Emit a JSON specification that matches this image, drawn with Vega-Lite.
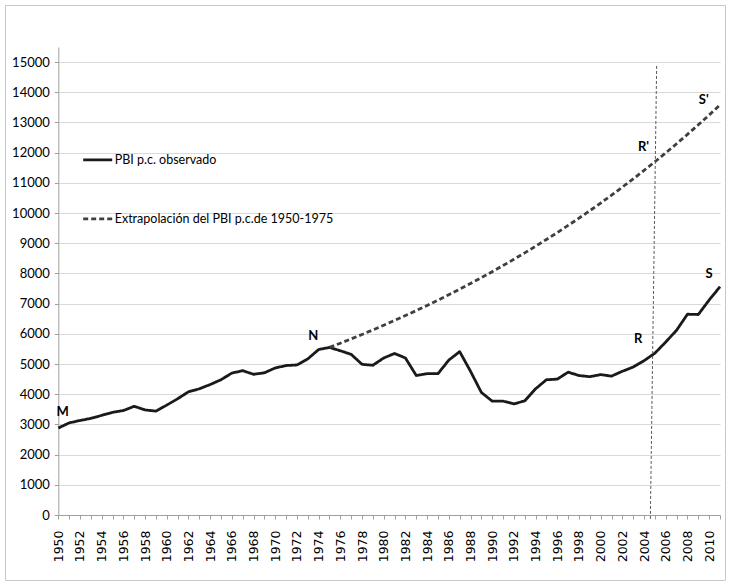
{
  "$schema": "https://vega.github.io/schema/vega-lite/v6.json",
  "width": 720,
  "height": 575,
  "padding": 5,
  "background": "white",
  "config": {"view": {"stroke": "#c8c8c8", "strokeWidth": 1}},
  "datasets": {
    "series": [
      {"year": 1950, "value": 2880, "series": "PBI p.c. observado"},
      {"year": 1951, "value": 3050, "series": "PBI p.c. observado"},
      {"year": 1952, "value": 3130, "series": "PBI p.c. observado"},
      {"year": 1953, "value": 3200, "series": "PBI p.c. observado"},
      {"year": 1954, "value": 3300, "series": "PBI p.c. observado"},
      {"year": 1955, "value": 3400, "series": "PBI p.c. observado"},
      {"year": 1956, "value": 3460, "series": "PBI p.c. observado"},
      {"year": 1957, "value": 3600, "series": "PBI p.c. observado"},
      {"year": 1958, "value": 3480, "series": "PBI p.c. observado"},
      {"year": 1959, "value": 3440, "series": "PBI p.c. observado"},
      {"year": 1960, "value": 3640, "series": "PBI p.c. observado"},
      {"year": 1961, "value": 3850, "series": "PBI p.c. observado"},
      {"year": 1962, "value": 4080, "series": "PBI p.c. observado"},
      {"year": 1963, "value": 4180, "series": "PBI p.c. observado"},
      {"year": 1964, "value": 4320, "series": "PBI p.c. observado"},
      {"year": 1965, "value": 4480, "series": "PBI p.c. observado"},
      {"year": 1966, "value": 4700, "series": "PBI p.c. observado"},
      {"year": 1967, "value": 4780, "series": "PBI p.c. observado"},
      {"year": 1968, "value": 4660, "series": "PBI p.c. observado"},
      {"year": 1969, "value": 4710, "series": "PBI p.c. observado"},
      {"year": 1970, "value": 4870, "series": "PBI p.c. observado"},
      {"year": 1971, "value": 4950, "series": "PBI p.c. observado"},
      {"year": 1972, "value": 4970, "series": "PBI p.c. observado"},
      {"year": 1973, "value": 5170, "series": "PBI p.c. observado"},
      {"year": 1974, "value": 5480, "series": "PBI p.c. observado"},
      {"year": 1975, "value": 5550, "series": "PBI p.c. observado"},
      {"year": 1976, "value": 5440, "series": "PBI p.c. observado"},
      {"year": 1977, "value": 5320, "series": "PBI p.c. observado"},
      {"year": 1978, "value": 4990, "series": "PBI p.c. observado"},
      {"year": 1979, "value": 4960, "series": "PBI p.c. observado"},
      {"year": 1980, "value": 5200, "series": "PBI p.c. observado"},
      {"year": 1981, "value": 5350, "series": "PBI p.c. observado"},
      {"year": 1982, "value": 5200, "series": "PBI p.c. observado"},
      {"year": 1983, "value": 4620, "series": "PBI p.c. observado"},
      {"year": 1984, "value": 4680, "series": "PBI p.c. observado"},
      {"year": 1985, "value": 4680, "series": "PBI p.c. observado"},
      {"year": 1986, "value": 5130, "series": "PBI p.c. observado"},
      {"year": 1987, "value": 5410, "series": "PBI p.c. observado"},
      {"year": 1988, "value": 4760, "series": "PBI p.c. observado"},
      {"year": 1989, "value": 4060, "series": "PBI p.c. observado"},
      {"year": 1990, "value": 3770, "series": "PBI p.c. observado"},
      {"year": 1991, "value": 3770, "series": "PBI p.c. observado"},
      {"year": 1992, "value": 3680, "series": "PBI p.c. observado"},
      {"year": 1993, "value": 3780, "series": "PBI p.c. observado"},
      {"year": 1994, "value": 4180, "series": "PBI p.c. observado"},
      {"year": 1995, "value": 4480, "series": "PBI p.c. observado"},
      {"year": 1996, "value": 4500, "series": "PBI p.c. observado"},
      {"year": 1997, "value": 4730, "series": "PBI p.c. observado"},
      {"year": 1998, "value": 4620, "series": "PBI p.c. observado"},
      {"year": 1999, "value": 4580, "series": "PBI p.c. observado"},
      {"year": 2000, "value": 4650, "series": "PBI p.c. observado"},
      {"year": 2001, "value": 4600, "series": "PBI p.c. observado"},
      {"year": 2002, "value": 4760, "series": "PBI p.c. observado"},
      {"year": 2003, "value": 4900, "series": "PBI p.c. observado"},
      {"year": 2004, "value": 5110, "series": "PBI p.c. observado"},
      {"year": 2005, "value": 5360, "series": "PBI p.c. observado"},
      {"year": 2006, "value": 5730, "series": "PBI p.c. observado"},
      {"year": 2007, "value": 6120, "series": "PBI p.c. observado"},
      {"year": 2008, "value": 6650, "series": "PBI p.c. observado"},
      {"year": 2009, "value": 6640, "series": "PBI p.c. observado"},
      {"year": 2010, "value": 7120, "series": "PBI p.c. observado"},
      {"year": 2011, "value": 7560, "series": "PBI p.c. observado"},
      {"year": 1975, "value": 5550, "series": "Extrapolación del PBI p.c.de 1950-1975"},
      {"year": 1976, "value": 5690, "series": "Extrapolación del PBI p.c.de 1950-1975"},
      {"year": 1977, "value": 5833, "series": "Extrapolación del PBI p.c.de 1950-1975"},
      {"year": 1978, "value": 5980, "series": "Extrapolación del PBI p.c.de 1950-1975"},
      {"year": 1979, "value": 6130, "series": "Extrapolación del PBI p.c.de 1950-1975"},
      {"year": 1980, "value": 6285, "series": "Extrapolación del PBI p.c.de 1950-1975"},
      {"year": 1981, "value": 6443, "series": "Extrapolación del PBI p.c.de 1950-1975"},
      {"year": 1982, "value": 6605, "series": "Extrapolación del PBI p.c.de 1950-1975"},
      {"year": 1983, "value": 6771, "series": "Extrapolación del PBI p.c.de 1950-1975"},
      {"year": 1984, "value": 6942, "series": "Extrapolación del PBI p.c.de 1950-1975"},
      {"year": 1985, "value": 7116, "series": "Extrapolación del PBI p.c.de 1950-1975"},
      {"year": 1986, "value": 7295, "series": "Extrapolación del PBI p.c.de 1950-1975"},
      {"year": 1987, "value": 7479, "series": "Extrapolación del PBI p.c.de 1950-1975"},
      {"year": 1988, "value": 7667, "series": "Extrapolación del PBI p.c.de 1950-1975"},
      {"year": 1989, "value": 7860, "series": "Extrapolación del PBI p.c.de 1950-1975"},
      {"year": 1990, "value": 8058, "series": "Extrapolación del PBI p.c.de 1950-1975"},
      {"year": 1991, "value": 8261, "series": "Extrapolación del PBI p.c.de 1950-1975"},
      {"year": 1992, "value": 8469, "series": "Extrapolación del PBI p.c.de 1950-1975"},
      {"year": 1993, "value": 8682, "series": "Extrapolación del PBI p.c.de 1950-1975"},
      {"year": 1994, "value": 8901, "series": "Extrapolación del PBI p.c.de 1950-1975"},
      {"year": 1995, "value": 9125, "series": "Extrapolación del PBI p.c.de 1950-1975"},
      {"year": 1996, "value": 9354, "series": "Extrapolación del PBI p.c.de 1950-1975"},
      {"year": 1997, "value": 9590, "series": "Extrapolación del PBI p.c.de 1950-1975"},
      {"year": 1998, "value": 9831, "series": "Extrapolación del PBI p.c.de 1950-1975"},
      {"year": 1999, "value": 10079, "series": "Extrapolación del PBI p.c.de 1950-1975"},
      {"year": 2000, "value": 10332, "series": "Extrapolación del PBI p.c.de 1950-1975"},
      {"year": 2001, "value": 10593, "series": "Extrapolación del PBI p.c.de 1950-1975"},
      {"year": 2002, "value": 10859, "series": "Extrapolación del PBI p.c.de 1950-1975"},
      {"year": 2003, "value": 11132, "series": "Extrapolación del PBI p.c.de 1950-1975"},
      {"year": 2004, "value": 11413, "series": "Extrapolación del PBI p.c.de 1950-1975"},
      {"year": 2005, "value": 11700, "series": "Extrapolación del PBI p.c.de 1950-1975"},
      {"year": 2006, "value": 11994, "series": "Extrapolación del PBI p.c.de 1950-1975"},
      {"year": 2007, "value": 12296, "series": "Extrapolación del PBI p.c.de 1950-1975"},
      {"year": 2008, "value": 12606, "series": "Extrapolación del PBI p.c.de 1950-1975"},
      {"year": 2009, "value": 12923, "series": "Extrapolación del PBI p.c.de 1950-1975"},
      {"year": 2010, "value": 13248, "series": "Extrapolación del PBI p.c.de 1950-1975"},
      {"year": 2011, "value": 13582, "series": "Extrapolación del PBI p.c.de 1950-1975"}
    ],
    "vline": [
      {"year": 2004.58, "value": -130},
      {"year": 2005.16, "value": 14900}
    ],
    "labels": [
      {"year": 1950.4, "value": 3420, "label": "M"},
      {"year": 1973.5, "value": 5930, "label": "N"},
      {"year": 2003.45, "value": 5820, "label": "R"},
      {"year": 2003.95, "value": 12195, "label": "R'"},
      {"year": 2010.0, "value": 7980, "label": "S"},
      {"year": 2009.5, "value": 13740, "label": "S'"}
    ]
  },
  "encoding": {
    "x": {
      "field": "year",
      "type": "quantitative",
      "scale": {"domain": [1950, 2011], "range": [53.3, 715], "nice": false, "zero": false},
      "axis": {
        "title": null,
        "orient": "bottom",
        "offset": -65,
        "grid": false,
        "values": [1950,1951,1952,1953,1954,1955,1956,1957,1958,1959,1960,1961,1962,1963,1964,1965,1966,1967,1968,1969,1970,1971,1972,1973,1974,1975,1976,1977,1978,1979,1980,1981,1982,1983,1984,1985,1986,1987,1988,1989,1990,1991,1992,1993,1994,1995,1996,1997,1998,1999,2000,2001,2002,2003,2004,2005,2006,2007,2008,2009,2010,2011],
        "format": "d",
        "labelExpr": "datum.value % 2 == 0 ? datum.label : ''",
        "labelAngle": -90,
        "labelOverlap": false,
        "labelFlush": false,
        "labelBound": false,
        "labelPadding": 11,
        "labelFont": "DejaVu Sans",
        "labelFontSize": 12.5,
        "labelColor": "#000000",
        "tickSize": 4,
        "tickColor": "#a0a0a0",
        "domainColor": "#a0a0a0"
      }
    },
    "y": {
      "field": "value",
      "type": "quantitative",
      "scale": {"domain": [0, 15500], "range": [510, 42], "nice": false, "zero": true},
      "axis": {
        "title": null,
        "orient": "left",
        "offset": -53.3,
        "values": [0,1000,2000,3000,4000,5000,6000,7000,8000,9000,10000,11000,12000,13000,14000,15000],
        "format": "d",
        "grid": true,
        "gridColor": "#d9d9d9",
        "gridWidth": 1,
        "tickSize": 4,
        "tickColor": "#a0a0a0",
        "domainColor": "#a0a0a0",
        "labelPadding": 5,
        "labelFont": "Lato",
        "labelFontSize": 13,
        "labelColor": "#000000"
      }
    }
  },
  "layer": [
    {
      "data": {"name": "series"},
      "mark": {"type": "line", "strokeWidth": 2.8, "strokeJoin": "round"},
      "encoding": {
        "color": {
          "field": "series",
          "type": "nominal",
          "scale": {
            "domain": ["PBI p.c. observado", "Extrapolación del PBI p.c.de 1950-1975"],
            "range": ["#1a1a1a", "#3f3f3f"]
          },
          "legend": {
            "orient": "none",
            "legendX": 76.7,
            "legendY": 138.8,
            "title": null,
            "direction": "vertical",
            "symbolType": "stroke",
            "symbolSize": 841,
            "symbolStrokeWidth": 2.8,
            "labelFont": "Lato",
            "labelFontSize": 12.5,
            "labelColor": "#000000",
            "labelOffset": 1,
            "labelLimit": 0,
            "rowPadding": 36,
            "padding": 0
          }
        },
        "strokeDash": {
          "field": "series",
          "type": "nominal",
          "scale": {
            "domain": ["PBI p.c. observado", "Extrapolación del PBI p.c.de 1950-1975"],
            "range": [[1, 0], [5, 3]]
          },
          "legend": {
            "orient": "none",
            "legendX": 76.7,
            "legendY": 138.8,
            "title": null,
            "direction": "vertical",
            "symbolType": "stroke",
            "symbolSize": 841,
            "symbolStrokeWidth": 2.8,
            "labelFont": "Lato",
            "labelFontSize": 12.5,
            "labelColor": "#000000",
            "labelOffset": 1,
            "labelLimit": 0,
            "rowPadding": 36,
            "padding": 0
          }
        }
      }
    },
    {
      "data": {"name": "vline"},
      "mark": {"type": "line", "color": "#595959", "strokeWidth": 1, "strokeDash": [3, 2]},
      "encoding": {}
    },
    {
      "data": {"name": "labels"},
      "mark": {"type": "text", "font": "Lato", "fontWeight": "bold", "fontSize": 13, "color": "#000000", "align": "center", "baseline": "middle"},
      "encoding": {"text": {"field": "label", "type": "nominal"}}
    }
  ]
}
